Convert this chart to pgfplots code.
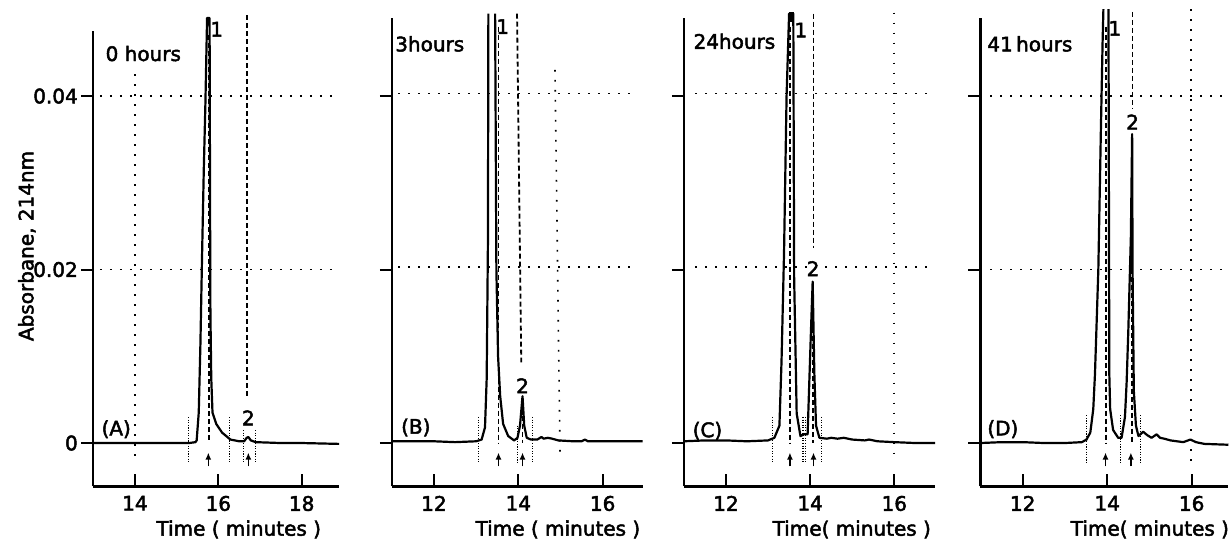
\documentclass[border=0pt]{standalone}
\usepackage{pgfplots}
\pgfplotsset{compat=1.18}
\usepackage{fontspec}
\setmainfont{DejaVu Sans}[FakeBold=2.4]
\usetikzlibrary{arrows.meta}
\newcommand\fs{\fontsize{20bp}{24bp}\selectfont}
\pgfplotsset{
 panel/.style={
  scale only axis, clip=false,
  axis x line=bottom, axis y line=left,
  axis line style={-, line width=2.2bp},
  xtick align=inside, ytick align=outside,
  major tick length=12bp,
  every tick/.style={black, line width=2bp},
  ymin=-0.005, scaled y ticks=false,
  ytick={0,0.02,0.04}, yticklabels={},
  tick label style={font=\fs},
  /pgf/number format/assume math mode=true,
  xticklabel style={yshift=-6bp},
 },
 curve/.style={black, line width=2.2bp, line join=round},
 griddot/.style={black, line width=1.6bp, dash pattern=on 1.6bp off 8.4bp},
 markdot/.style={black, line width=1.1bp, dash pattern=on 1.1bp off 1.5bp},
 dashv/.style={black, line width=1.8bp, dash pattern=on 5bp off 3bp},
 arr/.style={black, line width=1.5bp, -{Latex[length=7bp,width=6bp]}},
}
\begin{document}
\begin{tikzpicture}
\useasboundingbox (0,0) rectangle (1231bp,541bp);
% ---------------- Panel A ----------------
\begin{axis}[panel, at={(93.3bp,54.6bp)}, anchor=south west,
  width=245.9bp, height=455.4bp, xmin=13, xmax=18.9, ymax=0.0475,
  xtick={14,16,18}, yticklabels={0,0.02,0.04}]
\addplot[griddot] coordinates {(13.16,0.04) (18.84,0.04)};
\addplot[griddot] coordinates {(13.16,0.02) (18.84,0.02)};
\addplot[griddot] coordinates {(14,0.0425) (14,-0.0018)};
\addplot[dashv] coordinates {(16.69,0.0493) (16.69,0.0051)};
\addplot[dashv] coordinates {(15.78,0.047) (15.78,0.0)};
\addplot[markdot] coordinates {(15.28,0.003) (15.28,-0.0022)};
\addplot[markdot] coordinates {(16.26,0.003) (16.26,-0.0022)};
\addplot[markdot] coordinates {(16.6,0.0015) (16.6,-0.0022)};
\addplot[markdot] coordinates {(16.9,0.0015) (16.9,-0.0022)};
\addplot[arr] coordinates {(15.76,-0.0027) (15.76,-0.0011)};
\addplot[arr] coordinates {(16.72,-0.0027) (16.72,-0.0011)};
\addplot[curve] coordinates {
(13.0,0.0000) (13.5,0.0000) (14.0,0.0000) (14.5,0.0000) (15.0,0.0000)
(15.3,0.0000) (15.45,0.0001) (15.48,0.0003) (15.53,0.0035) (15.57,0.0114)
(15.61,0.0217) (15.65,0.0313) (15.69,0.0392) (15.73,0.0490) (15.79,0.0490)
(15.80,0.0300) (15.81,0.0150) (15.83,0.0075) (15.86,0.0035) (15.95,0.0022)
(16.09,0.0012) (16.29,0.0004) (16.5,0.0002) (16.62,0.0002) (16.68,0.0006)
(16.72,0.0007) (16.78,0.0003) (16.9,0.0001) (17.5,0.0000) (18.0,0.0000)
(18.9,-0.0001)};
\node[font=\fs] at (axis cs:14.2,0.0449) {0 hours};
\node[font=\fs] at (axis cs:13.55,0.0016) {(A)};
\node[font=\fs] at (axis cs:15.96,0.0477) {1};
\node[font=\fs] at (axis cs:16.72,0.0029) {2};
\node[rotate=90,font=\fs] at (rel axis cs:-0.27,0.528) {Absorbane, 214nm};
\node[font=\fs, yshift=-43bp] at (axis cs:16.49,-0.005) {Time ( minutes )};
\end{axis}
% ---------------- Panel B ----------------
\begin{axis}[panel, at={(391.8bp,54.6bp)}, anchor=south west,
  width=250.9bp, height=468.5bp, xmin=11, xmax=16.95, ymax=0.049,
  xtick={12,14,16}]
\addplot[griddot] coordinates {(11.15,0.0403) (16.77,0.0403)};
\addplot[griddot] coordinates {(11.15,0.0203) (16.77,0.0203)};
\addplot[griddot] coordinates {(14.87,0.043) (14.99,-0.0016)};
\addplot[dashv] coordinates {(13.97,0.0495) (14.07,0.0093)};
\addplot[dashv] coordinates {(14.1,0.005) (14.1,0.0)};
\addplot[dashv] coordinates {(13.53,0.048) (13.53,0.0)};
\addplot[markdot] coordinates {(13.05,0.003) (13.05,-0.0022)};
\addplot[markdot] coordinates {(13.98,0.002) (13.98,-0.0022)};
\addplot[markdot] coordinates {(14.34,0.003) (14.34,-0.0022)};
\addplot[arr] coordinates {(13.53,-0.0027) (13.53,-0.0011)};
\addplot[arr] coordinates {(14.1,-0.0027) (14.1,-0.0011)};
\addplot[curve] coordinates {
(11.0,0.0002) (12.0,0.0002) (12.5,0.0001) (13.0,0.0002) (13.13,0.0004)
(13.21,0.0018) (13.25,0.0074) (13.28,0.0234) (13.29,0.0495)};
\addplot[curve] coordinates {
(13.45,0.0495) (13.48,0.0200) (13.52,0.0100) (13.57,0.0054) (13.64,0.0022)
(13.76,0.0008) (13.9,0.0003) (13.98,0.0006) (14.04,0.0020) (14.1,0.0054)
(14.14,0.0020) (14.2,0.0006) (14.3,0.0004) (14.45,0.0004) (14.55,0.0007)
(14.6,0.0005) (14.7,0.0006) (14.8,0.0005) (14.95,0.0003) (15.3,0.0002)
(15.5,0.0002) (15.58,0.0004) (15.65,0.0002) (16.0,0.0002) (16.95,0.0002)};
\node[font=\fs] at (axis cs:11.9,0.046) {3hours};
\node[font=\fs] at (axis cs:11.57,0.0018) {(B)};
\node[font=\fs] at (axis cs:13.63,0.048) {1};
\node[font=\fs] at (axis cs:14.1,0.0066) {2};
\node[font=\fs, yshift=-43bp] at (axis cs:14.94,-0.005) {Time ( minutes )};
\end{axis}
% ---------------- Panel C ----------------
\begin{axis}[panel, at={(683.9bp,54.6bp)}, anchor=south west,
  width=251.2bp, height=468.5bp, xmin=11, xmax=16.97, ymax=0.049,
  xtick={12,14,16}]
\addplot[griddot] coordinates {(11.27,0.0403) (16.92,0.0403)};
\addplot[griddot] coordinates {(11.27,0.0203) (16.92,0.0203)};
\addplot[griddot] coordinates {(16.0,0.0496) (16.0,-0.0018)};
\addplot[dashv] coordinates {(14.08,0.0495) (14.08,0.0225)};
\addplot[dashv] coordinates {(14.07,0.016) (14.07,0.0)};
\addplot[dashv] coordinates {(13.52,0.048) (13.52,0.0)};
\addplot[markdot] coordinates {(13.1,0.003) (13.1,-0.0022)};
\addplot[markdot] coordinates {(13.83,0.003) (13.83,-0.0022)};
\addplot[markdot] coordinates {(13.88,0.003) (13.88,-0.0022)};
\addplot[markdot] coordinates {(14.27,0.003) (14.27,-0.0022)};
\addplot[arr] coordinates {(13.52,-0.0027) (13.52,-0.0011)};
\addplot[arr] coordinates {(14.08,-0.0027) (14.08,-0.0011)};
\addplot[curve] coordinates {
(11.0,0.0002) (11.5,0.0003) (12.0,0.0003) (12.5,0.0002) (13.0,0.0003)
(13.15,0.0006) (13.27,0.0020) (13.32,0.0094) (13.38,0.0220) (13.44,0.0400)
(13.50,0.0495) (13.60,0.0495) (13.62,0.0190) (13.68,0.0034) (13.77,0.0008)
(13.85,0.0010) (13.94,0.0010) (13.98,0.0070) (14.02,0.0130) (14.06,0.0186)
(14.10,0.0080) (14.14,0.0020) (14.22,0.0006) (14.4,0.0005) (14.5,0.0006)
(14.65,0.0005) (14.8,0.0006) (15.0,0.0004) (15.3,0.0003) (15.4,0.0004)
(15.6,0.0002) (16.0,0.0001) (16.5,0.0000) (16.97,0.0000)};
\addplot[black, line width=5bp] coordinates {(13.55,0.0485) (13.55,0.0497)};
\node[font=\fs] at (axis cs:12.2,0.0463) {24hours};
\node[font=\fs] at (axis cs:11.56,0.0014) {(C)};
\node[font=\fs] at (axis cs:13.78,0.0476) {1};
\node[font=\fs] at (axis cs:14.07,0.0201) {2};
\node[font=\fs, yshift=-43bp] at (axis cs:14.99,-0.005) {Time( minutes )};
\end{axis}
% ---------------- Panel D ----------------
\begin{axis}[panel, at={(980.45bp,54.6bp)}, anchor=south west,
  width=248bp, height=468.5bp, xmin=11, xmax=16.87, ymax=0.049,
  xtick={12,14,16}]
\addplot[griddot] coordinates {(11.23,0.0400) (16.87,0.0400)};
\addplot[griddot] coordinates {(11.23,0.0200) (16.87,0.0200)};
\addplot[griddot] coordinates {(15.98,0.050) (15.98,-0.0022)};
\addplot[dashv] coordinates {(14.6,0.0497) (14.6,0.0386)};
\addplot[dashv] coordinates {(14.58,0.033) (14.58,0.0)};
\addplot[dashv] coordinates {(13.97,0.048) (13.97,0.0)};
\addplot[markdot] coordinates {(13.52,0.0032) (13.52,-0.0024)};
\addplot[markdot] coordinates {(14.32,0.0032) (14.32,-0.0024)};
\addplot[markdot] coordinates {(14.79,0.0032) (14.79,-0.0024)};
\addplot[arr] coordinates {(13.96,-0.0027) (13.96,-0.0011)};
\addplot[arr] coordinates {(14.56,-0.0027) (14.56,-0.0011)};
\addplot[curve] coordinates {
(11.0,0.0000) (11.5,0.0001) (12.0,0.0001) (12.5,0.0000) (13.0,0.0000)
(13.4,0.0001) (13.51,0.0004) (13.6,0.0012) (13.67,0.0039) (13.71,0.0079)
(13.75,0.0139) (13.79,0.0200) (13.85,0.0360) (13.89,0.0460) (13.91,0.0500)};
\addplot[curve] coordinates {
(14.03,0.0500) (14.05,0.0079) (14.07,0.0039) (14.14,0.0015) (14.26,0.0006)
(14.34,0.0006) (14.42,0.0030) (14.46,0.0070) (14.50,0.0130) (14.56,0.0238)
(14.59,0.0356) (14.60,0.0200) (14.63,0.0060) (14.68,0.0020) (14.74,0.0008)
(14.85,0.0013) (14.95,0.0009) (15.05,0.0006) (15.17,0.0010) (15.25,0.0006)
(15.35,0.0005) (15.5,0.0003) (15.8,0.0001) (15.97,0.0004) (16.1,0.0001)
(16.3,-0.0001) (16.87,-0.0002)};
\node[font=\fs] at (axis cs:12.17,0.046) {41\,hours};
\node[font=\fs] at (axis cs:11.53,0.0016) {(D)};
\node[font=\fs] at (axis cs:14.18,0.0478) {1};
\node[font=\fs] at (axis cs:14.6,0.037) {2};
\node[font=\fs, yshift=-43bp] at (axis cs:15.01,-0.005) {Time( minutes )};
\end{axis}
\end{tikzpicture}
\end{document}
